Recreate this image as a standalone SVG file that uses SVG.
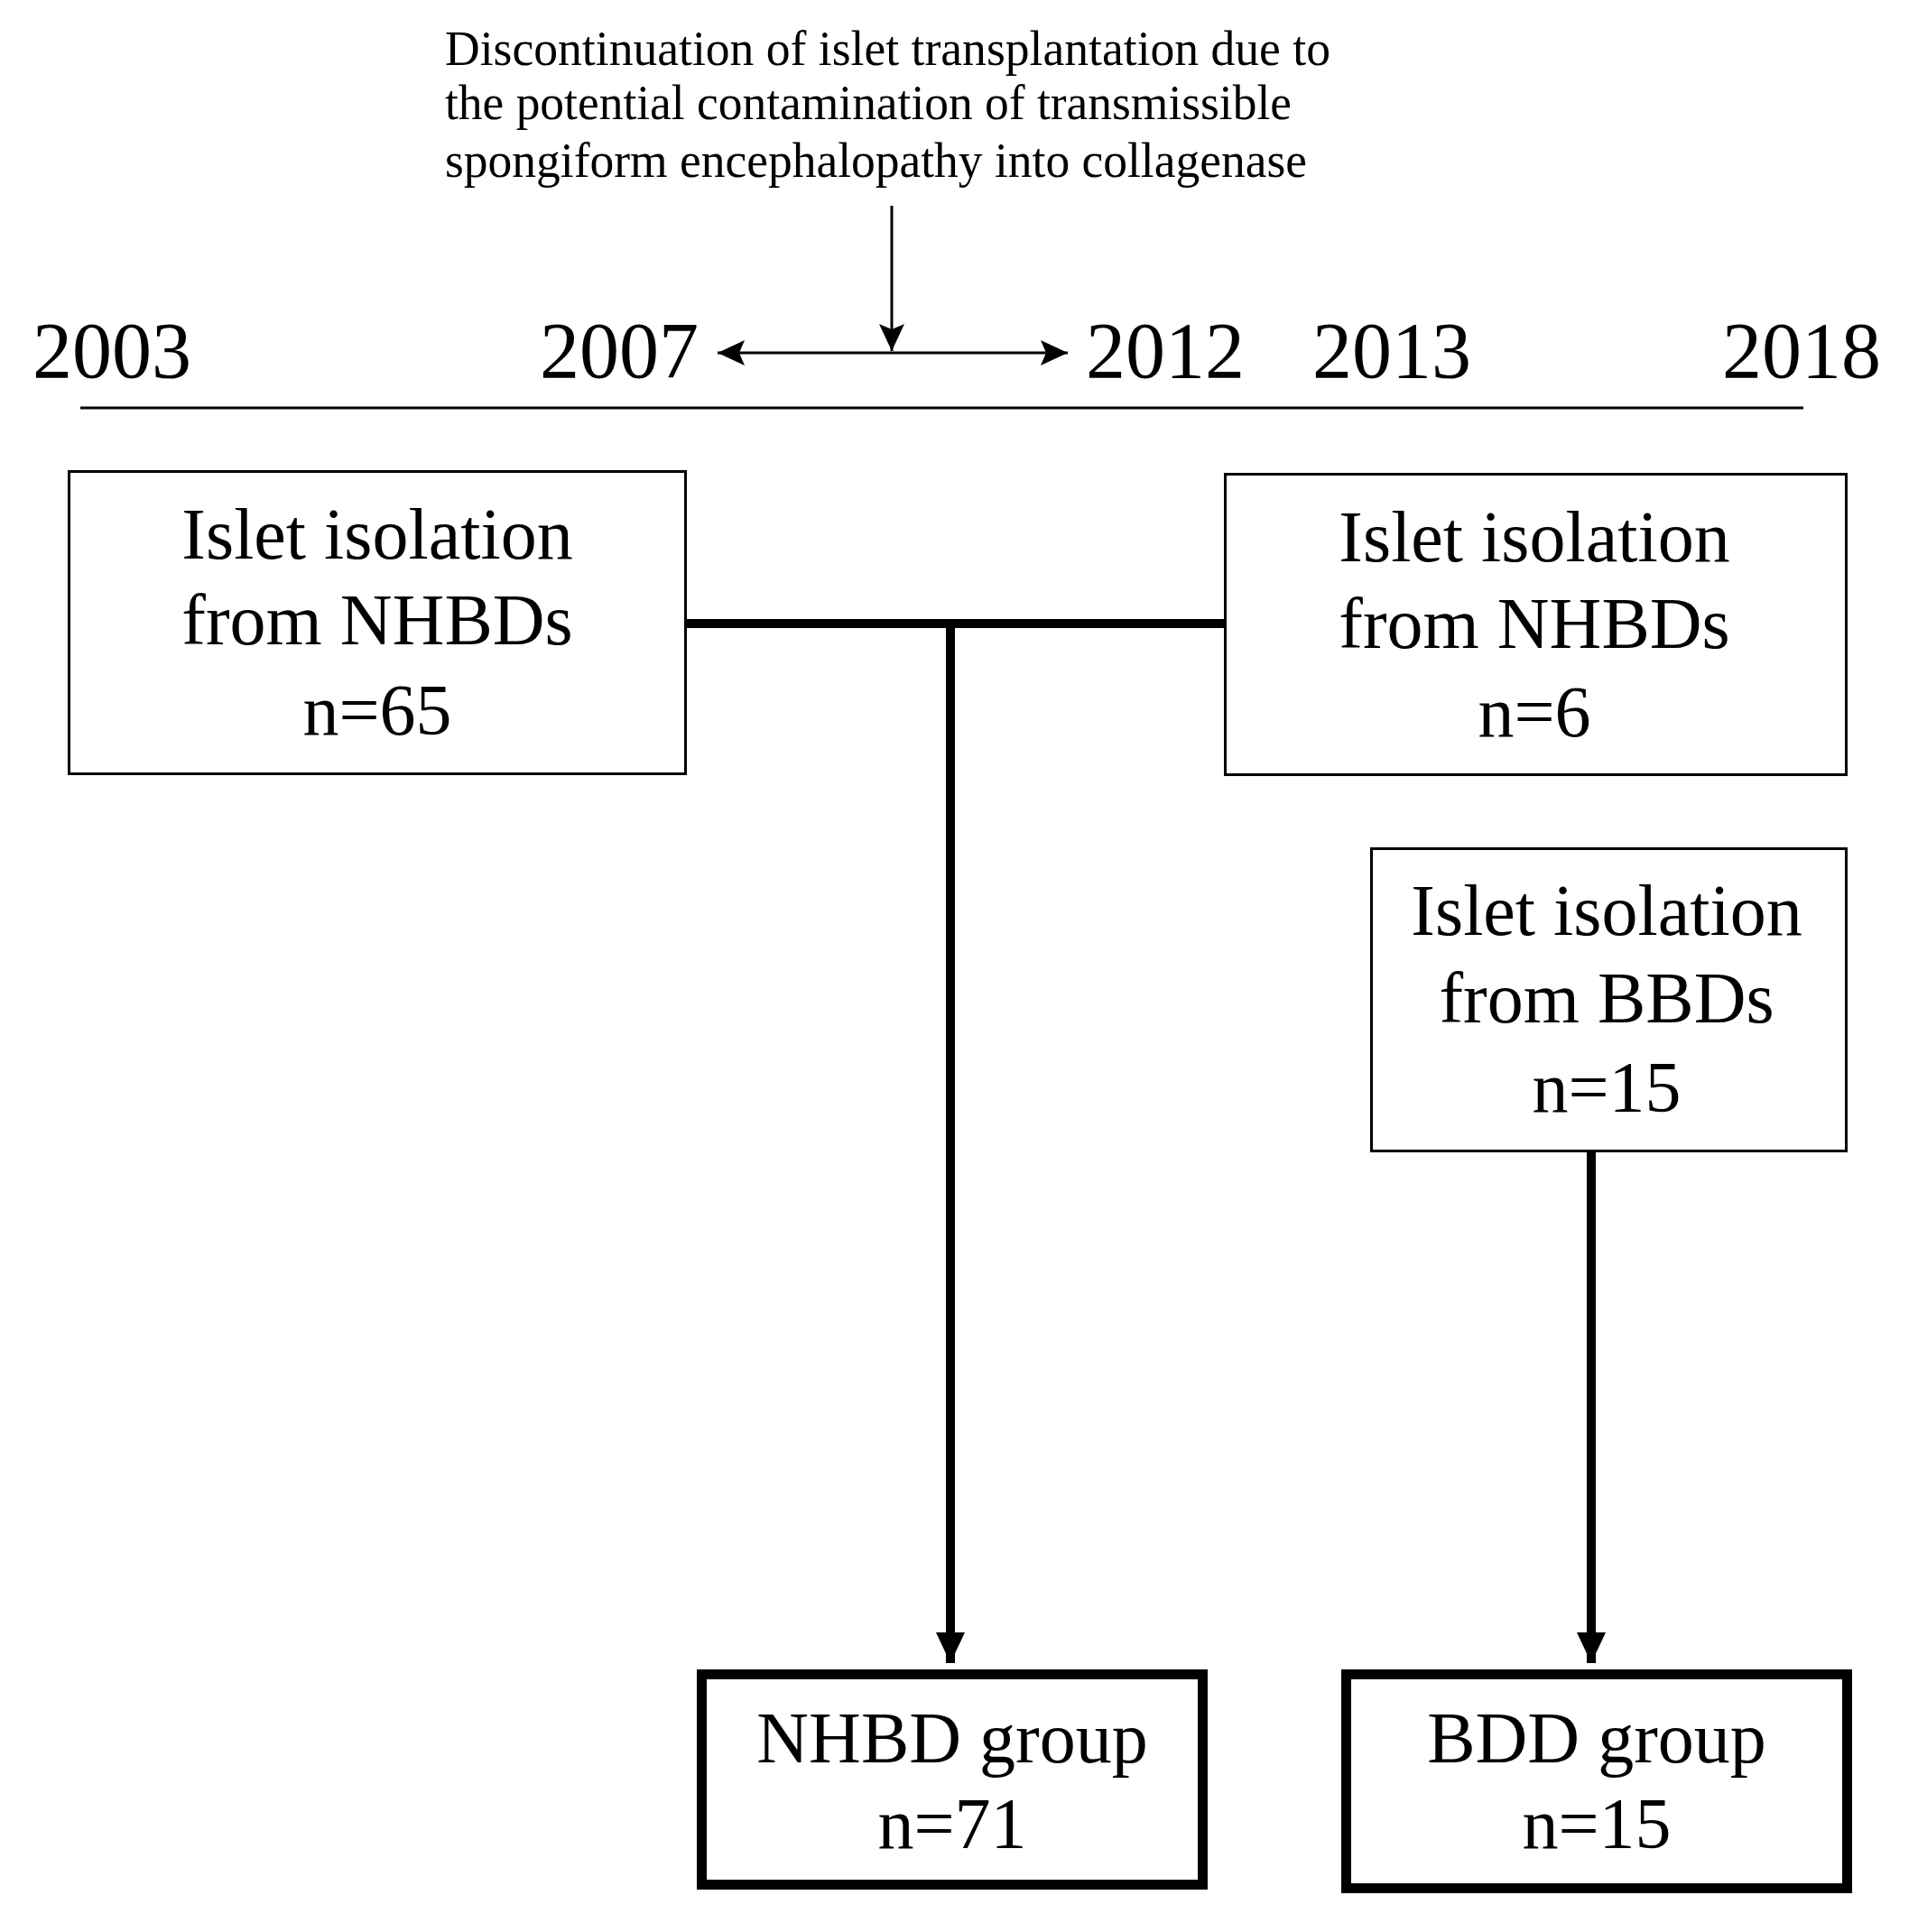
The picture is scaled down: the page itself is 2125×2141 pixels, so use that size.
<svg xmlns="http://www.w3.org/2000/svg" width="2125" height="2141" viewBox="0 0 2125 2141">
<style>
text{font-family:"Liberation Serif","Times New Roman",serif;fill:#000}
.note{font-size:55px}
.year{font-size:88px}
.lbl{font-size:80px;text-anchor:middle}
.box{fill:#fff;stroke:#000;stroke-width:3}
.bold{fill:#fff;stroke:#000;stroke-width:11}
.thin{stroke:#000;stroke-width:3;fill:none}
.thick{stroke:#000;stroke-width:10;fill:none}
</style>
<defs>
<marker id="ah" markerUnits="userSpaceOnUse" markerWidth="30" markerHeight="30" viewBox="0 0 30 30" refX="30" refY="15" orient="auto-start-reverse">
<path d="M0,1 L30,15 L0,29 L6,15 Z" fill="#000"/>
</marker>
<marker id="ahb" markerUnits="userSpaceOnUse" markerWidth="34" markerHeight="34" viewBox="0 0 34 34" refX="34" refY="17" orient="auto">
<path d="M0,1 L34,17 L0,33 Z" fill="#000"/>
</marker>
</defs>
<rect width="2125" height="2141" fill="#fff"/>
<g id="note">
<text class="note" x="493" y="72" textLength="981" lengthAdjust="spacingAndGlyphs">Discontinuation  of islet transplantation  due to</text>
<text class="note" x="493" y="132" textLength="938" lengthAdjust="spacingAndGlyphs">the potential  contamination of transmissible</text>
<text class="note" x="493" y="196" textLength="955" lengthAdjust="spacingAndGlyphs">spongiform encephalopathy into collagenase</text>
</g>
<g id="timeline">
<text class="year" x="36" y="418">2003</text>
<text class="year" x="598" y="418">2007</text>
<text class="year" x="1203" y="418">2012</text>
<text class="year" x="1454" y="418">2013</text>
<text class="year" x="1908" y="418">2018</text>
<line x1="89" y1="452" x2="1998" y2="452" stroke="#000" stroke-width="3"/>
</g>
<g id="box1">
<rect class="box" x="76.5" y="522.5" width="683" height="335"/>
<text class="lbl" x="418" y="619">Islet isolation</text>
<text class="lbl" x="418" y="714">from NHBDs</text>
<text class="lbl" x="418" y="814">n=65</text>
</g>
<g id="box2">
<rect class="box" x="1357.5" y="525.5" width="688" height="333"/>
<text class="lbl" x="1700" y="622">Islet isolation</text>
<text class="lbl" x="1700" y="718">from NHBDs</text>
<text class="lbl" x="1700" y="816">n=6</text>
</g>
<g id="box3">
<rect class="box" x="1519.5" y="940.5" width="526" height="335"/>
<text class="lbl" x="1780" y="1036">Islet isolation</text>
<text class="lbl" x="1780" y="1133">from BBDs</text>
<text class="lbl" x="1780" y="1232">n=15</text>
</g>
<g id="nhbd-group">
<rect class="bold" x="777.5" y="1855.5" width="555" height="233"/>
<text class="lbl" x="1055" y="1953">NHBD group</text>
<text class="lbl" x="1055" y="2048">n=71</text>
</g>
<g id="bdd-group">
<rect class="bold" x="1491.5" y="1855.5" width="555" height="237"/>
<text class="lbl" x="1769" y="1953">BDD group</text>
<text class="lbl" x="1769" y="2048">n=15</text>
</g>
<g id="connectors">
<line class="thin" x1="795" y1="391" x2="1183" y2="391" marker-start="url(#ah)" marker-end="url(#ah)"/>
<line class="thin" x1="988" y1="228" x2="988" y2="389" stroke-width="2.5" marker-end="url(#ah)"/>
<polyline class="thick" points="761,691 1357,691"/>
<line class="thick" x1="1053" y1="691" x2="1053" y2="1843" marker-end="url(#ahb)"/>
<line class="thick" x1="1763" y1="1277" x2="1763" y2="1843" marker-end="url(#ahb)"/>
</g>
</svg>
